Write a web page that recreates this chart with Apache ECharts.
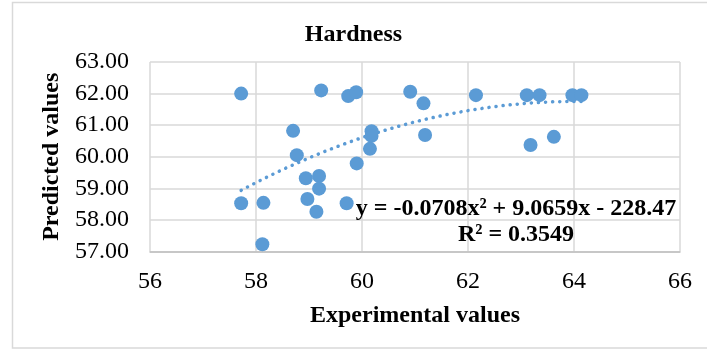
<!DOCTYPE html>
<html>
<head>
<meta charset="utf-8">
<script src="https://cdn.jsdelivr.net/npm/echarts@6/dist/echarts.min.js"></script>
<style>html,body{margin:0;padding:0;background:#fff}#c{width:707px;height:350px}</style>
</head>
<body>
<div id="c"></div>
<script>
// Data
const experimental = [57.72, 57.72, 58.12, 58.14, 58.70, 58.77, 58.94, 58.97, 59.14, 59.19, 59.19, 59.23, 59.71, 59.74, 59.89, 59.90, 60.15, 60.18, 60.18, 60.91, 61.16, 61.19, 62.15, 63.11, 63.18, 63.35, 63.62, 63.97, 64.14];
const predicted    = [62.00, 58.53, 57.23, 58.54, 60.82, 60.05, 59.32, 58.66, 58.26, 59.39, 58.99, 62.10, 58.53, 61.92, 62.04, 59.79, 60.25, 60.81, 60.66, 62.06, 61.69, 60.69, 61.95, 61.95, 60.37, 61.95, 60.63, 61.95, 61.95];
const trendCoef = [-0.0708, 9.0659, -228.47]; // a, b, c from the displayed equation
const trendLabel = ['y = -0.0708x² + 9.0659x - 228.47', 'R² = 0.3549'];
const xTicks = [56, 58, 60, 62, 64, 66];
const yTicks = [57, 58, 59, 60, 61, 62, 63];

const points = experimental.map((x, i) => [x, predicted[i]]);
const xMin = Math.min(...experimental), xMax = Math.max(...experimental);
const trend = [];
const steps = 60;
for (let k = 0; k <= steps; k++) {
  const x = xMin + (xMax - xMin) * k / steps;
  trend.push([x, trendCoef[0] * x * x + trendCoef[1] * x + trendCoef[2]]);
}

const serif = '"Liberation Serif", "Times New Roman", serif';
const chart = echarts.init(document.getElementById('c'), null, {renderer: 'canvas'});
chart.setOption({
  animation: false,
  title: {
    text: 'Hardness', left: 'center', top: 23, padding: 0,
    textStyle: {fontFamily: serif, fontWeight: 'bold', fontSize: 24, color: '#000'}
  },
  grid: {left: 150, right: 27, top: 62, bottom: 98.5},
  xAxis: {
    type: 'value', min: xTicks[0], max: xTicks[xTicks.length - 1], interval: 2,
    name: 'Experimental values', nameLocation: 'middle', nameGap: 52,
    nameTextStyle: {fontFamily: serif, fontWeight: 'bold', fontSize: 24, color: '#000'},
    axisLine: {show: true, lineStyle: {color: '#bfbfbf', width: 1.5}},
    axisTick: {show: false},
    axisLabel: {fontFamily: serif, fontSize: 24, color: '#000', margin: 18},
    splitLine: {show: true, lineStyle: {color: '#d9d9d9', width: 1.5}}
  },
  yAxis: {
    type: 'value', min: yTicks[0], max: yTicks[yTicks.length - 1], interval: 1,
    name: 'Predicted values', nameLocation: 'middle', nameGap: 84,
    nameTextStyle: {fontFamily: serif, fontWeight: 'bold', fontSize: 24, color: '#000'},
    axisLine: {show: false},
    axisTick: {show: false},
    axisLabel: {fontFamily: serif, fontSize: 24, color: '#000', margin: 21, formatter: v => v.toFixed(2)},
    splitLine: {show: true, lineStyle: {color: '#d9d9d9', width: 1.5}}
  },
  series: [
    {
      type: 'line', data: trend, showSymbol: false, smooth: false, silent: true, z: 1,
      lineStyle: {color: '#5b9bd5', width: 3.5, type: [0.1, 7], cap: 'round'}
    },
    {
      type: 'scatter', data: points, symbol: 'circle', symbolSize: 14, z: 2,
      itemStyle: {color: '#5b9bd5', opacity: 1}
    }
  ],
  graphic: [
    {
      type: 'rect', shape: {x: 12.5, y: 2.5, width: 720, height: 345.5}, silent: true, z: -10,
      style: {fill: 'none', stroke: '#d9d9d9', lineWidth: 1.5}
    },
    {
      type: 'text', x: 516, y: 196, z: 10, silent: true,
      style: {
        text: trendLabel.join('\n'), fontFamily: serif, fontWeight: 'bold', fontSize: 24,
        lineHeight: 26, fill: '#000', align: 'center', verticalAlign: 'top'
      }
    }
  ]
});
</script>
</body>
</html>
